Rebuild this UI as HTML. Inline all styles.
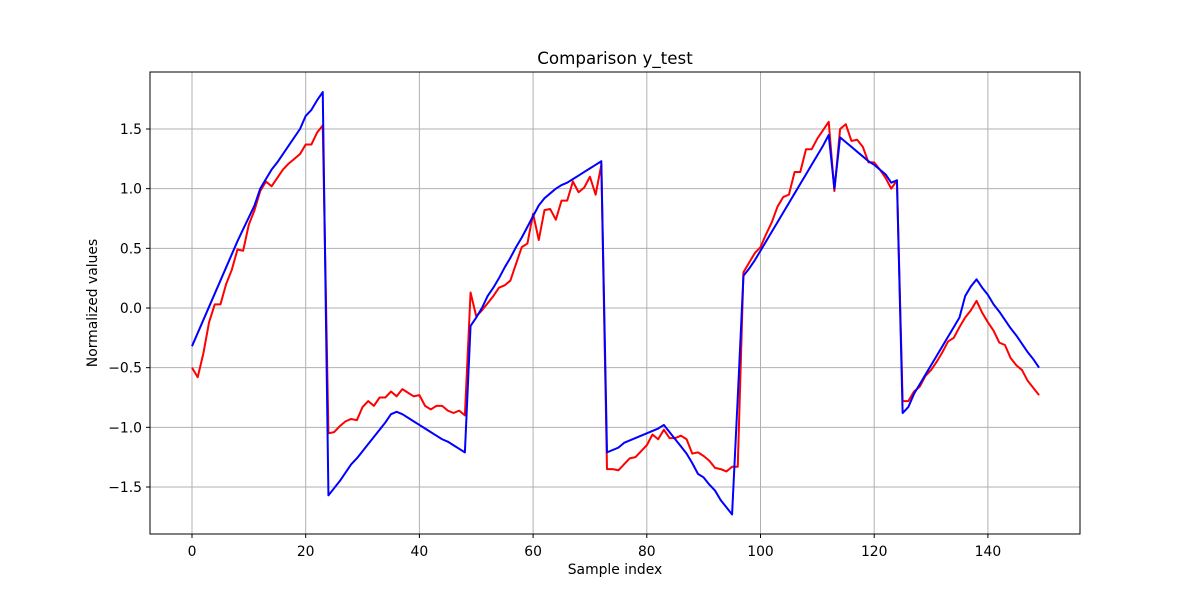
<!DOCTYPE html>
<html><head><meta charset="utf-8"><style>
body{margin:0;background:#fff;}
svg{display:block;font-family:"DejaVu Sans","Liberation Sans",sans-serif;}
</style></head><body>
<svg id="chart" width="1200" height="600">
<rect x="0" y="0" width="1200" height="600" fill="#fff"/>
<g id="grid"></g>
<g id="series"></g>
<rect x="150" y="72" width="930" height="462" fill="none" stroke="#000" stroke-width="1"/>
<g id="ticks"></g>
<text x="615" y="64" text-anchor="middle" font-size="16.7">Comparison y_test</text>
<text x="615" y="574" text-anchor="middle" font-size="13.9">Sample index</text>
<text x="97" y="303" text-anchor="middle" font-size="13.9" transform="rotate(-90 97 303)">Normalized values</text>
</svg>
<script>
const xTicks=[0,20,40,60,80,100,120,140];
const yTicks=[-1.5,-1.0,-0.5,0.0,0.5,1.0,1.5];
const yTickLabels=["−1.5","−1.0","−0.5","0.0","0.5","1.0","1.5"];
const trueValues=[-0.32,-0.21,-0.10,0.01,0.12,0.23,0.34,0.45,0.56,0.66,0.76,0.86,1.0,1.08,1.16,1.22,1.29,1.36,1.43,1.50,1.61,1.66,1.74,1.81,
-1.57,-1.51,-1.45,-1.38,-1.31,-1.26,-1.20,-1.14,-1.08,-1.02,-0.96,-0.89,-0.87,-0.89,-0.92,-0.95,-0.98,-1.01,-1.04,-1.07,-1.10,-1.12,-1.15,-1.18,-1.21,
-0.15,-0.08,0.0,0.1,0.17,0.25,0.34,0.42,0.51,0.59,0.68,0.77,0.86,0.92,0.96,1.0,1.03,1.05,1.08,1.11,1.14,1.17,1.20,1.23,
-1.21,-1.19,-1.17,-1.13,-1.11,-1.09,-1.07,-1.05,-1.03,-1.01,-0.98,-1.04,-1.10,-1.16,-1.22,-1.30,-1.39,-1.42,-1.48,-1.53,-1.61,-1.67,-1.73,-0.75,
0.27,0.33,0.40,0.48,0.56,0.64,0.72,0.80,0.88,0.96,1.04,1.12,1.20,1.28,1.36,1.45,1.0,1.43,1.39,1.35,1.31,1.27,1.23,1.20,1.16,1.12,1.05,1.07,
-0.88,-0.83,-0.72,-0.64,-0.56,-0.48,-0.40,-0.32,-0.24,-0.16,-0.08,0.10,0.18,0.24,0.17,0.11,0.03,-0.03,-0.10,-0.17,-0.23,-0.30,-0.37,-0.43,-0.50];
const predValues=[-0.50,-0.58,-0.38,-0.12,0.03,0.03,0.20,0.32,0.49,0.48,0.70,0.82,0.98,1.06,1.02,1.09,1.16,1.21,1.25,1.29,1.37,1.37,1.47,1.53,
-1.05,-1.04,-0.99,-0.95,-0.93,-0.94,-0.83,-0.78,-0.82,-0.75,-0.75,-0.70,-0.74,-0.68,-0.71,-0.74,-0.73,-0.82,-0.85,-0.82,-0.82,-0.86,-0.88,-0.86,-0.90,
0.13,-0.07,-0.02,0.04,0.10,0.17,0.19,0.23,0.37,0.51,0.54,0.79,0.57,0.82,0.83,0.74,0.90,0.90,1.06,0.97,1.01,1.10,0.95,1.20,
-1.35,-1.35,-1.36,-1.31,-1.26,-1.25,-1.20,-1.15,-1.06,-1.10,-1.02,-1.09,-1.09,-1.07,-1.10,-1.22,-1.21,-1.24,-1.28,-1.34,-1.35,-1.37,-1.33,-1.33,
0.30,0.38,0.46,0.51,0.62,0.72,0.85,0.93,0.95,1.14,1.14,1.33,1.33,1.42,1.49,1.56,0.98,1.50,1.54,1.40,1.41,1.35,1.22,1.22,1.16,1.09,1.00,1.07,
-0.78,-0.78,-0.70,-0.66,-0.57,-0.52,-0.45,-0.37,-0.28,-0.25,-0.16,-0.08,-0.02,0.06,-0.04,-0.12,-0.19,-0.29,-0.31,-0.42,-0.48,-0.52,-0.61,-0.67,-0.73];

const NS="http://www.w3.org/2000/svg";
const X0=192,XS=5.685,Y0=308,YS=119.33;
function xs(v){return X0+v*XS;}
function ys(v){return Y0-v*YS;}
function mk(tag,attrs,parent){const e=document.createElementNS(NS,tag);for(const k in attrs)e.setAttribute(k,attrs[k]);parent.appendChild(e);return e;}
const grid=document.getElementById('grid'),ticks=document.getElementById('ticks'),series=document.getElementById('series');
xTicks.forEach(t=>{
  const x=xs(t);
  const g=mk('line',{x1:x,x2:x,y1:72,y2:534,stroke:'#b0b0b0','stroke-width':1},grid);
  
  
  const tk=mk('line',{x1:x,x2:x,y1:534,y2:538,stroke:'#000'},ticks);
  
  
  const lb=mk('text',{x:x,y:556,'text-anchor':'middle','font-size':13.9},ticks);
  lb.textContent=String(t);
  
  
});
yTicks.forEach((t,i)=>{
  const y=ys(t);
  const g=mk('line',{x1:150,x2:1080,y1:y,y2:y,stroke:'#b0b0b0','stroke-width':1},grid);
  
  
  const tk=mk('line',{x1:146,x2:150,y1:y,y2:y,stroke:'#000'},ticks);
  
  
  const lb=mk('text',{x:142,y:y+5,'text-anchor':'end','font-size':13.9},ticks);
  lb.textContent=yTickLabels[i];
  
  
});
function line(vals,color,name){
  const d=vals.map((v,i)=>(i?'L':'M')+xs(i).toFixed(2)+','+ys(v).toFixed(2)).join('');
  const p=mk('path',{d:d,fill:'none',stroke:color,'stroke-width':2,'stroke-linejoin':'round'},series);
  
  
}
line(predValues,'#ff0000','predicted-line');
line(trueValues,'#0000ff','actual-line');
</script>
</body></html>
